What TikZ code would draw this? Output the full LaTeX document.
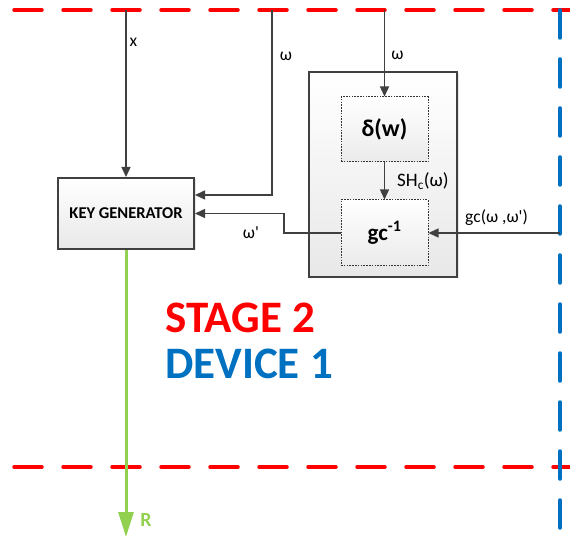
\documentclass[tikz,border=0pt]{standalone}
\usepackage{fontspec}
\setmainfont{Carlito}
\usetikzlibrary{arrows.meta,shadows}
\definecolor{dred}{RGB}{255,0,0}
\definecolor{dblue}{RGB}{0,112,192}
\definecolor{lgreen}{RGB}{146,208,80}
\definecolor{lc}{RGB}{64,64,64}
\begin{document}
\begin{tikzpicture}[x=1pt,y=-1pt,
  solidbox/.style={draw=lc, line width=2pt, top color=white, bottom color=gray!18,
    drop shadow={opacity=0.2, shadow xshift=1.5pt, shadow yshift=-1.5pt}, inner sep=0pt},
  dotbox/.style={draw=black!80, line width=1pt, dash pattern=on 1.6pt off 1.2pt,
    top color=white, bottom color=gray!16, inner sep=0pt},
  arr/.style={draw=lc, line width=1.4pt, -{Triangle[length=10pt,width=9pt]}},
  lbl/.style={font=\fontsize{17.5}{17.5}\selectfont, text=black, inner sep=0pt},
  reddash/.style={draw=dred, line width=3.5pt, line cap=round, dash pattern=on 28pt off 21pt},
  bluedash/.style={draw=dblue, line width=3.5pt, line cap=round, dash pattern=on 28pt off 21pt}]
\useasboundingbox (0,0) rectangle (570,537);

% boundary lines
\coordinate (tl) at (14,10);
\coordinate (tr) at (570,10);
\coordinate (bl) at (14,467);
\coordinate (br) at (570,467);
\coordinate (vt) at (560,10);
\coordinate (vb) at (560,537);
\draw[reddash] (tl) -- (tr);
\draw[reddash] (bl) -- (br);
\draw[bluedash] (vt) -- (vb);

% boxes
\node[solidbox, minimum width=136pt, minimum height=71pt,
  font=\fontsize{16.5}{16.5}\selectfont\bfseries] (kg) at (126,213.5) {KEY GENERATOR};
\node[solidbox, minimum width=148pt, minimum height=205pt] (big) at (383,174.5) {};
\node[dotbox, minimum width=87pt, minimum height=65pt,
  font=\fontsize{24}{24}\selectfont\bfseries] (dl) at (384.5,129.5) {δ(w)};
\node[dotbox, minimum width=87pt, minimum height=66pt,
  font=\fontsize{23}{23}\selectfont\bfseries] (gc) at (384.5,233) {gc\textsuperscript{-1}};

% connector end points
\coordinate (xtop) at (126,10);
\coordinate (wtop) at (272,10);
\coordinate (w1) at (0,195);
\coordinate (w2top) at (384.5,10);
\coordinate (gcin) at (560,233);
\coordinate (wp) at (284,213.5);
\coordinate (rend) at (126,537);

% connectors
\draw[arr] (xtop) -- (kg.north);
\draw[arr] (wtop) |- (w1 -| kg.east);
\draw[arr] (gc.west) -| (wp) -- (kg.east);
\draw[arr] (w2top) -- (dl.north);
\draw[arr] (dl.south) -- (gc.north);
\draw[arr] (gcin) -- (gc.east);
\draw[draw=lgreen, line width=3pt, -{Triangle[length=25pt,width=15pt]}] (kg.south) -- (rend);

% labels
\node[lbl] (lx) at (133.5,42) {x};
\node[lbl] (lw1) at (286,56) {ω};
\node[lbl] (lw2) at (397.5,55) {ω};
\node[lbl] (lwp) at (251,233) {ω\textquotesingle};
\node[lbl, anchor=west, font=\fontsize{19}{19}\selectfont] (lsh) at (397,181) {SH\textsubscript{c}(ω)};
\node[lbl, anchor=west] (lgc) at (465,218) {gc(ω ,ω\textquotesingle)};
\node[font=\fontsize{20}{20}\selectfont\bfseries, text=lgreen, inner sep=0pt] (lr) at (146,520) {R};
\node[font=\fontsize{45}{45}\selectfont\bfseries, text=dred, inner sep=0pt, anchor=west] (st) at (165,318) {STAGE 2};
\node[font=\fontsize{45}{45}\selectfont\bfseries, text=dblue, inner sep=0pt, anchor=west] (dv) at (165,364) {DEVICE 1};
\end{tikzpicture}
\end{document}
